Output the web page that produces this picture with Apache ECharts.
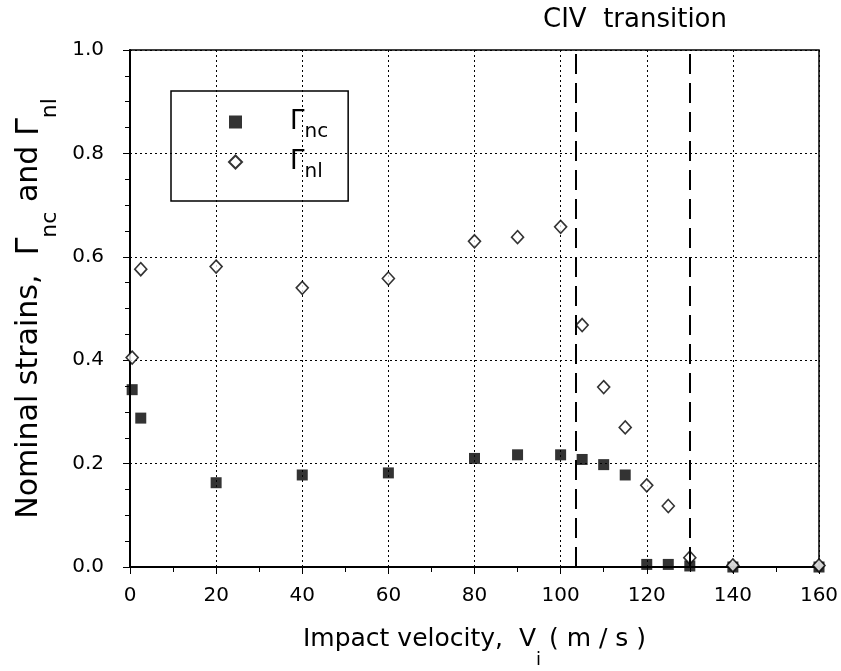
<!DOCTYPE html>
<html>
<head>
<meta charset="utf-8">
<script src="https://cdn.jsdelivr.net/npm/echarts@6/dist/echarts.min.js"></script>
<style>
html,body{margin:0;padding:0;background:#fff;}
#chart{width:841px;height:671px;}
</style>
</head>
<body>
<div id="chart"></div>
<script>
// ---- data ----
const velocities = [0.5, 2.5, 20, 40, 60, 80, 90, 100, 105, 110, 115, 120, 125, 130, 140, 160];
const gammaNC = [0.343, 0.288, 0.163, 0.178, 0.182, 0.210, 0.217, 0.217, 0.208, 0.198, 0.178, 0.005, 0.005, 0.002, 0.0, 0.0];
const gammaNL = [0.405, 0.576, 0.581, 0.540, 0.558, 0.630, 0.638, 0.658, 0.468, 0.348, 0.270, 0.158, 0.118, 0.018, 0.003, 0.003];
const transitionLines = [103.5, 130];
const seriesNames = ['Γnc', 'Γnl'];
const seriesLabels = {'Γnc': '{g|Γ}{s|nc}', 'Γnl': '{g|Γ}{s|nl}'};
const annotation = 'CIV  transition';

const FONT = 'DejaVu Sans, sans-serif';
const chart = echarts.init(document.getElementById('chart'));

function pairs(xs, ys){ return xs.map((x,i)=>[x, ys[i]]); }

const option = {
  backgroundColor: '#fff',
  animation: false,
  textStyle: {fontFamily: FONT, color: '#000'},
  grid: {left: 130, right: 22, top: 50, bottom: 104, containLabel: false, outerBoundsMode: 'none',
         show: true, borderColor: '#000', borderWidth: 1.5, backgroundColor: 'transparent'},
  graphic: [{
    type: 'text', left: 543, top: 7,
    style: {text: annotation, font: '26px ' + FONT, fill: '#000'}
  }],
  legend: {
    left: 171, top: 91, orient: 'vertical',
    padding: [11, 20, 19, 57],
    borderColor: '#000', borderWidth: 1.5,
    itemWidth: 13, itemHeight: 13, itemGap: 0,
    data: seriesNames,
    formatter: (n) => seriesLabels[n],
    textStyle: {
      padding: [0, 0, 0, 43],
      rich: {
        g: {fontSize: 26, fontFamily: FONT, color: '#000', lineHeight: 30},
        s: {fontSize: 20, fontFamily: FONT, color: '#000', lineHeight: 18, padding: [20, 0, 0, 0]}
      }
    }
  },
  xAxis: {
    type: 'value', min: 0, max: 160, interval: 20,
    name: '{t|Impact velocity,  V}{s|i}{t| ( m / s )}',
    nameLocation: 'middle', nameGap: 40,
    nameTextStyle: {
      rich: {
        t: {fontSize: 25, fontFamily: FONT, color: '#000', lineHeight: 30},
        s: {fontSize: 18, fontFamily: FONT, color: '#000', lineHeight: 16, padding: [40, 0, 0, 0]}
      }
    },
    axisLine: {show: true, onZero: false, lineStyle: {color: '#000', width: 2}},
    axisTick: {show: true, length: 7, lineStyle: {color: '#000', width: 1}},
    minorTick: {show: true, splitNumber: 2, length: 5, lineStyle: {color: '#000', width: 1}},
    axisLabel: {fontSize: 20, color: '#000', fontFamily: FONT, margin: 19},
    splitLine: {show: true, lineStyle: {color: '#000', type: [2, 3], width: 1}}
  },
  yAxis: {
    type: 'value', min: 0, max: 1, interval: 0.2,
    name: '{t|Nominal strains,  }{g|Γ}{s|nc}{t| and }{g|Γ}{s|nl}',
    nameLocation: 'middle', nameGap: 75,
    nameTextStyle: {
      rich: {
        t: {fontSize: 30, fontFamily: FONT, color: '#000', lineHeight: 34},
        g: {fontSize: 32, fontFamily: FONT, color: '#000', lineHeight: 34},
        s: {fontSize: 22, fontFamily: FONT, color: '#000', lineHeight: 20, padding: [42, 0, 0, 0]}
      }
    },
    axisLine: {show: true, lineStyle: {color: '#000', width: 2}},
    axisTick: {show: true, length: 7, lineStyle: {color: '#000', width: 1}},
    minorTick: {show: true, splitNumber: 4, length: 5, lineStyle: {color: '#000', width: 1}},
    axisLabel: {fontSize: 20, color: '#000', fontFamily: FONT, margin: 26, formatter: (v) => v.toFixed(1)},
    splitLine: {show: true, lineStyle: {color: '#000', type: [2, 3], width: 1}}
  },
  series: [
    {
      name: seriesNames[0], type: 'scatter', symbol: 'rect', symbolSize: 11,
      itemStyle: {color: '#000'},
      data: pairs(velocities, gammaNC), z: 3,
      markLine: {
        silent: true, symbol: ['none', 'none'], label: {show: false},
        lineStyle: {color: '#000', width: 2, type: [20, 9]},
        data: transitionLines.map(v => ({xAxis: v}))
      }
    },
    {
      name: seriesNames[1], type: 'scatter', symbol: 'diamond', symbolSize: [12, 13],
      itemStyle: {color: '#fff', borderColor: '#000', borderWidth: 1.6},
      data: pairs(velocities, gammaNL), z: 4
    }
  ]
};
chart.setOption(option);
</script>
</body>
</html>
